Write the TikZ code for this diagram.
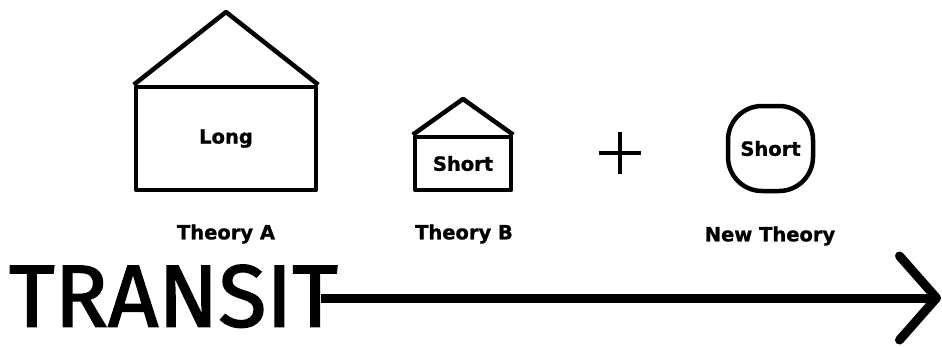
\documentclass[tikz,border=0pt]{standalone}
\usepackage{fontspec}
\setmainfont[BoldFeatures={FakeBold=1.2}]{DejaVu Sans}
\newfontfamily\transitfont[FakeBold=1.8]{Fira Sans}
\usepackage{tikz}
\usetikzlibrary{positioning,arrows.meta}

\begin{document}
\begin{tikzpicture}[
    x=1pt,
    y=-1pt,
    body/.style={
        rectangle,
        draw,
        line width=4.5pt,
        line join=round,
        inner sep=0pt,
        font=\fontsize{19.5}{22}\selectfont\bfseries
    },
    roof/.style={
        line width=4.5pt,
        line join=round
    },
    caption/.style={
        inner sep=0pt,
        font=\fontsize{19.5}{22}\selectfont\bfseries
    },
    arrow/.style={
        -{Straight Barb[length=37pt,width=84pt,line width=9pt,round]},
        line width=9pt
    }
]
\useasboundingbox (0,0) rectangle (942,346);

% ---------------- THEORY A ----------------
\node[body, minimum width=180pt, minimum height=103pt] (housea) at (226,138.5) {Long};
\coordinate (apexa) at (226,12);
\draw[roof] (housea.north west) -- (apexa) -- (housea.north east);
\node[caption] (labela) at (226,234) {Theory A};

% ---------------- THEORY B ----------------
\node[body, minimum width=96pt, minimum height=53pt] (houseb) at (463,163.5) {Short};
\coordinate (apexb) at (463,99);
\draw[roof] (houseb.north west) -- (apexb) -- (houseb.north east);
\node[caption] (labelb) at (464,234) {Theory B};

% ---------------- PLUS ----------------
\node[inner sep=0pt, minimum size=41pt] (plus) at (620,153) {};
\draw[line width=3.5pt] (plus.west) -- (plus.east);
\draw[line width=3.5pt] (plus.north) -- (plus.south);

% ---------------- NEW THEORY ----------------
\node[body, rounded corners=34pt, minimum size=85pt] (newbox) at (770.5,148.5) {Short};
\node[caption] (labelnew) at (770,236) {New Theory};

% ---------------- TRANSIT ----------------
\node[inner sep=0pt, anchor=base west, font=\fontsize{88}{90}\transitfont] (transit) at (9,326.5) {TRANSIT};
\coordinate (tip) at (941,298);
\draw[arrow] ([xshift=-17pt]transit.east |- tip) -- (tip);

\end{tikzpicture}
\end{document}
